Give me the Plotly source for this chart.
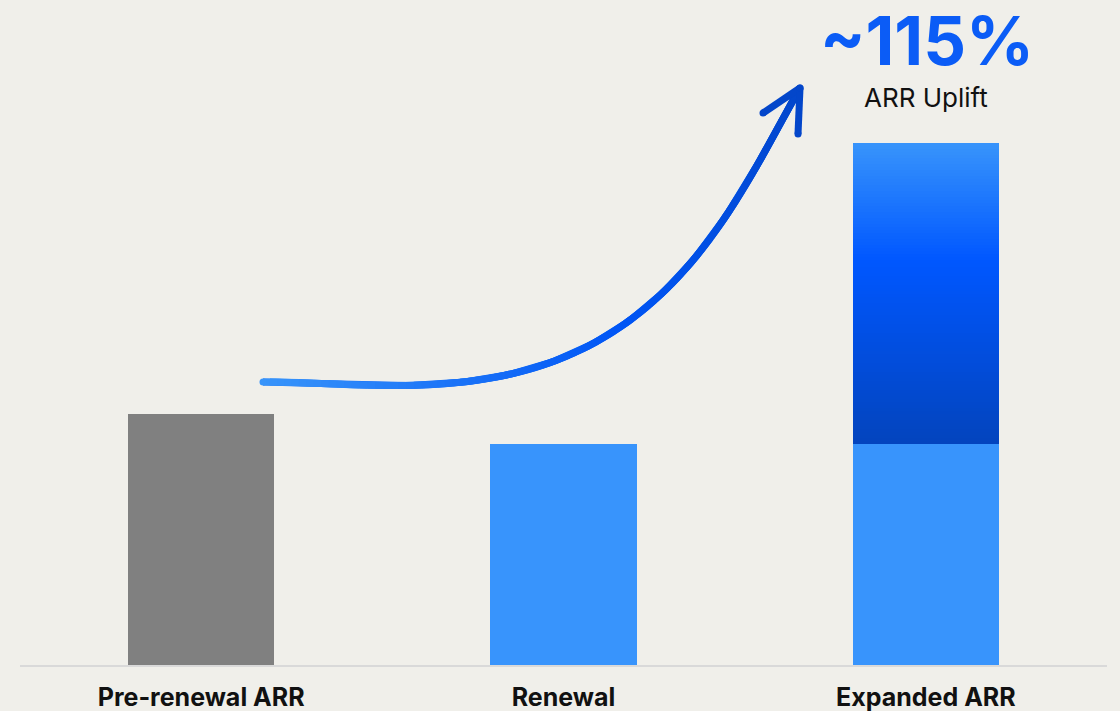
import plotly.graph_objects as go
import numpy as np
from math import comb

# ---------------- data ----------------
categories = ["Pre-renewal ARR", "Renewal", "Expanded ARR"]
base_values = [100, 88, 88]          # gray / light-blue base bars
expansion_value = 120                # gradient stacked part on "Expanded ARR"
uplift_label = "~115%"
uplift_caption = "ARR Uplift"

# ---------------- style ----------------
BG = "#F0EFEA"
GRAY = "#808080"
BLUE = "#3894FC"
grad_stops = [(0.0, (56, 148, 251)), (0.39, (0, 87, 255)), (1.0, (3, 68, 189))]  # from top
arrow_stops = [(0.0, (56, 148, 250)), (0.55, (0, 85, 245)), (1.0, (3, 70, 202))]

# decorative arrow guide points (overlay pixel-like axes)
arrow_guide = [(263, 382), (317, 384.5), (383, 386), (433, 384), (483, 377), (550, 363),
               (600, 343), (630, 320), (680, 273), (713, 233), (747, 183), (780, 127), (800, 88)]
arrow_tip = (800, 88)
arrow_wings = [(763, 113), (798, 134)]


def interp(stops, f):
    for (f0, c0), (f1, c1) in zip(stops[:-1], stops[1:]):
        if f <= f1:
            t = 0 if f1 == f0 else (f - f0) / (f1 - f0)
            c = [round(a + (b - a) * t) for a, b in zip(c0, c1)]
            return "rgb(%d,%d,%d)" % tuple(c)
    return "rgb(%d,%d,%d)" % stops[-1][1]


def bezier_fit(points, deg=4, samples=90):
    P = np.array(points, float)
    d = np.r_[0, np.cumsum(np.hypot(*np.diff(P, axis=0).T))]
    t = d / d[-1]

    def basis(tt):
        return np.stack([comb(deg, i) * tt ** i * (1 - tt) ** (deg - i) for i in range(deg + 1)], axis=1)

    for _ in range(4):
        B = basis(t)
        inner = B[:, 1:-1]
        rhs = P - np.outer(B[:, 0], P[0]) - np.outer(B[:, -1], P[-1])
        C_inner, *_ = np.linalg.lstsq(inner, rhs, rcond=None)
        C = np.vstack([P[0], C_inner, P[-1]])
        ts = np.linspace(0, 1, 2001)
        curve = basis(ts) @ C
        for j in range(1, len(P) - 1):
            t[j] = ts[np.argmin(np.hypot(*(curve - P[j]).T))]
    ts = np.linspace(0, 1, samples)
    return basis(ts) @ C


fig = go.Figure()
fig.add_bar(x=categories, y=base_values, marker_color=[GRAY, BLUE, BLUE],
            marker_line_width=0, hoverinfo="skip", showlegend=False)

N = 100
for i in range(N):
    f = 1 - (i + 0.5) / N
    fig.add_bar(x=[categories[2]], y=[expansion_value / N],
                marker_color=interp(grad_stops, f), marker_line_width=0,
                hoverinfo="skip", showlegend=False)

# ---------------- curved arrow ----------------
pts = bezier_fit(arrow_guide)
seglen = np.r_[0, np.cumsum(np.hypot(*np.diff(pts, axis=0).T))]
seglen /= seglen[-1]
fig.add_scatter(x=pts[:, 0], y=pts[:, 1], mode="lines", line=dict(color="rgb(20,110,248)", width=7),
                xaxis="x2", yaxis="y2", hoverinfo="skip", showlegend=False)
for k in range(len(pts) - 1):
    k2 = min(k + 2, len(pts) - 1)
    col = interp(arrow_stops, (seglen[k] + seglen[k + 1]) / 2)
    fig.add_scatter(x=pts[k:k2 + 1, 0], y=pts[k:k2 + 1, 1],
                    mode="lines", line=dict(color=col, width=7),
                    xaxis="x2", yaxis="y2", hoverinfo="skip", showlegend=False)
fig.add_scatter(x=[pts[0][0]], y=[pts[0][1]], mode="markers",
                marker=dict(size=7, color=interp(arrow_stops, 0), line=dict(width=0)),
                xaxis="x2", yaxis="y2", hoverinfo="skip", showlegend=False)
head_col = interp(arrow_stops, 1.0)
for wing in arrow_wings:
    fig.add_scatter(x=[arrow_tip[0], wing[0]], y=[arrow_tip[1], wing[1]], mode="lines+markers",
                    line=dict(color=head_col, width=7),
                    marker=dict(size=7, color=head_col, line=dict(width=0)),
                    xaxis="x2", yaxis="y2", hoverinfo="skip", showlegend=False)

# ---------------- texts ----------------
fig.add_annotation(x=927, y=40, xref="x2", yref="y2", text="<b>" + uplift_label + "</b>",
                   showarrow=False, font=dict(family="Inter", size=67, color="#0B5CF6"),
                   xanchor="center", yanchor="middle", borderpad=0)
fig.add_annotation(x=926, y=97, xref="x2", yref="y2", text=uplift_caption,
                   showarrow=False, font=dict(family="Inter", size=26, color="#111111"),
                   xanchor="center", yanchor="middle")

fig.update_layout(
    width=1120, height=711,
    margin=dict(l=20, r=13, t=0, b=46, autoexpand=False),
    paper_bgcolor=BG, plot_bgcolor=BG,
    barmode="stack", bargap=0.597,
    showlegend=False,
    xaxis=dict(showline=True, linecolor="#D9D9D9", linewidth=2, showgrid=False, automargin=False,
               ticks="", tickfont=dict(family="Inter", size=25, color="#111111", weight=700),
               ticklabelstandoff=9, fixedrange=True),
    yaxis=dict(range=[0, 265], visible=False, showgrid=False, zeroline=False, fixedrange=True,
               automargin=False),
    xaxis2=dict(overlaying="x", range=[20, 1107], visible=False, fixedrange=True),
    yaxis2=dict(overlaying="y", range=[665, 0], visible=False, fixedrange=True),
)

fig.write_html("out.html", config={"displayModeBar": False})
